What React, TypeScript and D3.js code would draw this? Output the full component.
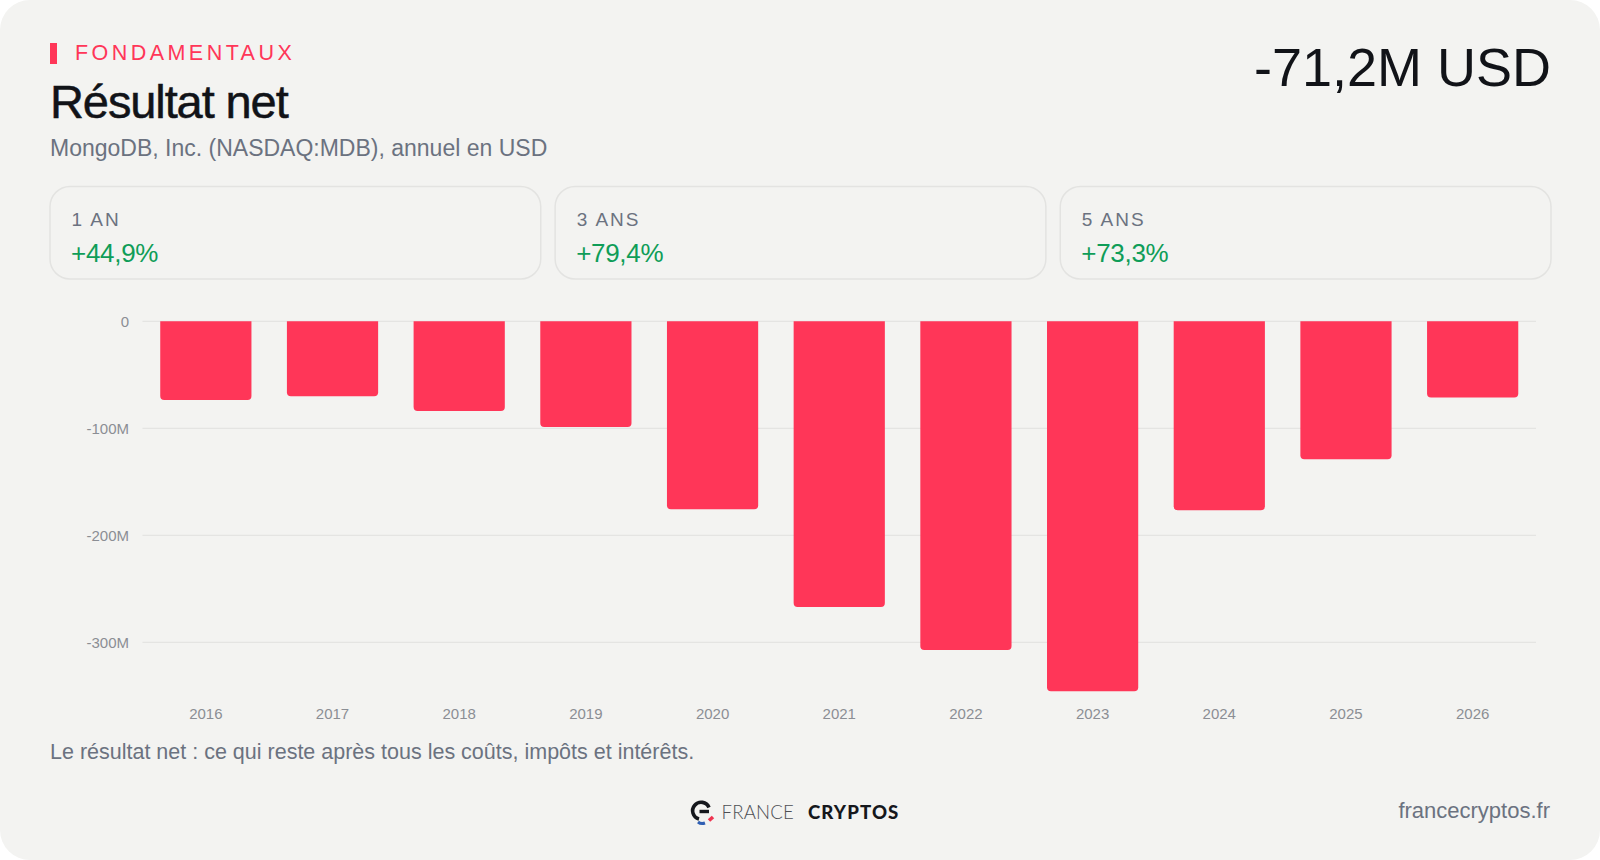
import { path, scaleBand, scaleLinear } from "d3";

const WIDTH = 1600
const HEIGHT = 860
const FONT = "'Liberation Sans', Arial, sans-serif"

const years = ["2016", "2017", "2018", "2019", "2020", "2021", "2022", "2023", "2024", "2025", "2026"];
const netIncome = [-73.5, -70.1, -83.8, -98.8, -175.6, -267.1, -307.2, -345.8, -176.6, -129, -71.2];
const yTicks = [0, -100, -200, -300];
const yTickLabels = ["0", "-100M", "-200M", "-300M"];
const periods = ["1 AN", "3 ANS", "5 ANS"];
const changes = ["+44,9%", "+79,4%", "+73,3%"];

const x = scaleBand<string>().domain(years).range([142.5, 1536]).paddingInner(0.28).paddingOuter(0.14)
const y = scaleLinear().domain([0, -300]).range([321.3, 642.3])
const cardX = scaleBand<string>().domain(periods).range([50, 1551]).paddingInner(0.0285)

// barre qui descend depuis zéro, seuls les coins du bas sont arrondis
const barPath = (year: string, value: number) => {
  const r = 4
  const x0 = x(year) as number
  const x1 = x0 + x.bandwidth()
  const y0 = y(0)
  const y1 = y(value)
  const p = path()
  p.moveTo(x0, y0)
  p.lineTo(x1, y0)
  p.lineTo(x1, y1 - r)
  p.quadraticCurveTo(x1, y1, x1 - r, y1)
  p.lineTo(x0 + r, y1)
  p.quadraticCurveTo(x0, y1, x0, y1 - r)
  p.closePath()
  return p.toString()
}

const Logo = () => (
  <g>
    <path
      d="M709 807.5 A8.5 8.5 0 1 0 699 819"
      fill="none"
      stroke="#15171c"
      strokeWidth="3.6"
    />
    <path d="M699.5 811.5 H709" stroke="#15171c" strokeWidth="3.4" fill="none" />
    <path d="M698 822 Q701 824.5 705 823" stroke="#2f5fb3" strokeWidth="3" fill="none" />
    <path d="M709 820.5 L713 817" stroke="#ef3450" strokeWidth="3.6" fill="none" />
    <text x={721.5} y={819.3} fontFamily="Lato, sans-serif" fontWeight={300} fontSize={18.6} letterSpacing={0.2} fill="#4d4f54">
      FRANCE
    </text>
    <text x={808} y={819.3} fontFamily="Lato, sans-serif" fontWeight={900} fontSize={18.6} letterSpacing={1.1} fill="#15171c">
      CRYPTOS
    </text>
  </g>
)

export default function App() {
  return (
    <svg
      width={WIDTH}
      height={HEIGHT}
      style={{ position: "absolute", left: 0, top: 0, background: "#ffffff" }}
      fontFamily={FONT}
    >
      <rect x={0} y={0} width={WIDTH} height={HEIGHT} rx={30} fill="#f3f3f1" />

      <rect x={50} y={43} width={7} height={21} fill="#ff3658" />
      <text x={75} y={60} fontSize={21.5} letterSpacing={3.45} fill="#ff3658">FONDAMENTAUX</text>
      <text x={50} y={118} fontSize={47} letterSpacing={-1.1} fill="#111318" stroke="#111318" strokeWidth={0.5}>Résultat net</text>
      <text x={50} y={156} fontSize={23} fill="#6b7280">MongoDB, Inc. (NASDAQ:MDB), annuel en USD</text>
      <text x={1551} y={86} fontSize={54} textAnchor="end" fill="#111318">-71,2M USD</text>

      {periods.map((period, i) => (
        <g key={period}>
          <rect
            x={cardX(period)}
            y={186.5}
            width={cardX.bandwidth()}
            height={92.5}
            rx={20}
            fill="#f3f3f1"
            stroke="#e3e3e1"
            strokeWidth={1.5}
          />
          <text x={(cardX(period) as number) + 21.5} y={225.5} fontSize={19} letterSpacing={2} fill="#6b7280">{period}</text>
          <text x={(cardX(period) as number) + 21} y={261.5} fontSize={26} letterSpacing={-0.3} fill="#0f9d58">{changes[i]}</text>
        </g>
      ))}

      {yTicks.map((tick, i) => (
        <g key={tick}>
          <line x1={142.5} x2={1536} y1={y(tick)} y2={y(tick)} stroke="#e4e4e2" strokeWidth={1.2} />
          <text x={129} y={y(tick)} dy="0.35em" fontSize={15} textAnchor="end" fill="#8b8e94">{yTickLabels[i]}</text>
        </g>
      ))}

      {years.map((year, i) => (
        <path key={year} d={barPath(year, netIncome[i])} fill="#ff3658" />
      ))}

      {years.map(year => (
        <text
          key={year}
          x={(x(year) as number) + x.bandwidth() / 2}
          y={718.5}
          fontSize={15}
          textAnchor="middle"
          fill="#8b8e94"
        >
          {year}
        </text>
      ))}

      <text x={50} y={759} fontSize={21.5} fill="#6b7280">Le résultat net : ce qui reste après tous les coûts, impôts et intérêts.</text>
      <Logo />
      <text x={1550} y={817.5} fontSize={22} textAnchor="end" fill="#6b7280">francecryptos.fr</text>
    </svg>
  );
}
